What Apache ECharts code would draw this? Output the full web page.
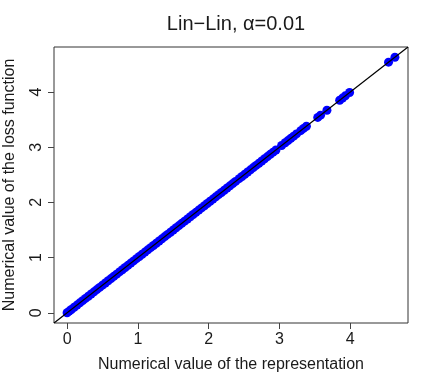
<!DOCTYPE html>
<html>
<head>
<meta charset="utf-8">
<script src="https://cdn.jsdelivr.net/npm/echarts@6/dist/echarts.min.js"></script>
<style>
  html, body { margin: 0; padding: 0; background: #fff; }
  #chart { width: 436px; height: 382px; }
</style>
</head>
<body>
<div id="chart"></div>
<script>
// values: representation value (x) = loss value (y)
var denseValues = [
  0.00, 0.03, 0.06, 0.10, 0.14, 0.18, 0.22, 0.26, 0.30, 0.34,
  0.38, 0.42, 0.46, 0.50, 0.54, 0.58, 0.62, 0.66, 0.70, 0.74,
  0.78, 0.82, 0.86, 0.90, 0.94, 0.98, 1.02, 1.06, 1.10, 1.14,
  1.18, 1.22, 1.26, 1.30, 1.34, 1.38, 1.42, 1.46, 1.50, 1.54,
  1.58, 1.62, 1.66, 1.70, 1.74, 1.78, 1.82, 1.86, 1.90, 1.94,
  1.98, 2.02, 2.06, 2.10, 2.14, 2.18, 2.22, 2.26, 2.30, 2.34,
  2.38, 2.43, 2.47, 2.51, 2.55, 2.59, 2.63, 2.67, 2.71, 2.75,
  2.79, 2.83, 2.87, 2.91, 2.95
];
var sparseValues = [
  3.03, 3.08, 3.12, 3.16, 3.20, 3.24, 3.30, 3.34, 3.38,
  3.54, 3.58, 3.67, 3.85, 3.89, 3.93, 3.99, 4.54, 4.63
];
var tickValues = [0, 1, 2, 3, 4];
var axisMin = -0.185;
var axisMax = 4.815;

var points = denseValues.concat(sparseValues).map(function (v) { return [v, v]; });
var identity = [[axisMin, axisMin], [axisMax, axisMax]];

var font = 'Liberation Sans, Arial, Helvetica, sans-serif';
var chart = echarts.init(document.getElementById('chart'));

var axisCommon = {
  type: 'value',
  min: axisMin,
  max: axisMax,
  axisLine: { show: false, onZero: false },
  axisTick: { show: true, inside: false, length: 6, customValues: tickValues,
              lineStyle: { color: '#444', width: 1 } },
  splitLine: { show: false },
  nameLocation: 'middle',
  nameTextStyle: { fontFamily: font, fontSize: 16, color: '#1a1a1a' }
};

chart.setOption({
  animation: false,
  title: {
    text: 'Lin\u2212Lin, \u03b1=0.01',
    left: 231,
    top: 9,
    textAlign: 'center',
    textStyle: { fontFamily: font, fontSize: 20, fontWeight: 'normal', color: '#1a1a1a' }
  },
  grid: {
    left: 54, right: 28, top: 47, bottom: 59,
    containLabel: false,
    outerBoundsMode: 'none',
    show: true, borderColor: '#333', borderWidth: 1, backgroundColor: '#fff'
  },
  xAxis: Object.assign({}, axisCommon, {
    name: 'Numerical value of the representation',
    nameGap: 34,
    axisLabel: { customValues: tickValues, margin: 9, fontFamily: font, fontSize: 16, color: '#1a1a1a' }
  }),
  yAxis: Object.assign({}, axisCommon, {
    name: 'Numerical value of the loss function',
    nameGap: 36,
    axisLabel: { customValues: tickValues, rotate: 90, margin: 9, fontFamily: font, fontSize: 16, color: '#1a1a1a' }
  }),
  series: [
    {
      type: 'scatter',
      data: points,
      symbol: 'circle',
      symbolSize: 9,
      itemStyle: { color: '#0000ff', opacity: 1 },
      z: 2
    },
    {
      type: 'line',
      data: identity,
      symbol: 'none',
      clip: true,
      lineStyle: { color: '#000', width: 1.2 },
      z: 3
    }
  ]
});
</script>
</body>
</html>
